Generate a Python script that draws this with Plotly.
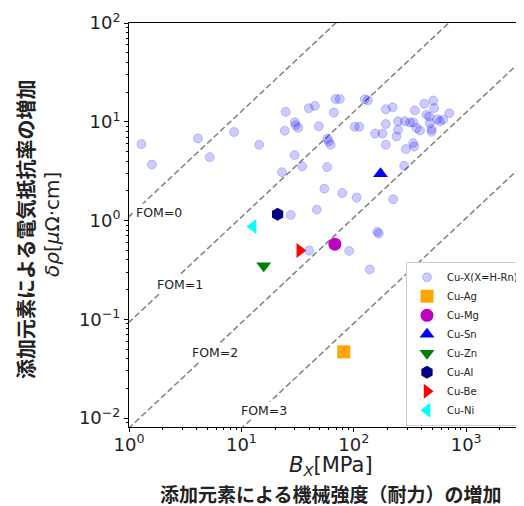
import numpy as np
import plotly.graph_objects as go

# ---------------- data ----------------
cux_x = [1.29, 1.60, 4.11, 5.23, 8.61, 14.4, 24.8, 39.8, 45.1, 29.9, 30.5, 32.1, 24.3, 48.9,
         29.7, 34.8, 23.0, 58.0, 54.7, 46.9, 27.5, 66.5, 68.9, 75.2, 125.6, 133.6, 102, 112,
         58.2, 60.0, 62.2, 155, 180, 193, 193, 193, 222, 78.9, 106, 224, 162, 167, 40.1, 91.0,
         139, 281, 291, 338, 345, 248, 248, 240, 285, 316, 338, 350, 388, 362, 424, 510, 520,
         445, 469, 476, 493, 493, 553, 585, 625, 708]
cux_y = [5.94, 3.69, 6.78, 4.39, 7.87, 5.85, 12.6, 13.7, 14.5, 9.89, 9.22, 8.69, 8.11, 9.0,
         4.60, 3.54, 3.09, 3.48, 2.10, 1.29, 1.14, 12.4, 17.0, 17.0, 16.9, 16.5, 8.9, 8.9,
         6.73, 6.34, 5.85, 7.61, 7.61, 13.4, 9.48, 5.85, 14.0, 1.90, 1.71, 1.64, 0.769, 0.741,
         0.497, 0.493, 0.320, 3.58, 5.29, 6.08, 5.62, 10.1, 8.30, 7.10, 10.1, 9.84, 9.84, 13.0,
         8.17, 8.64, 15.2, 16.4, 13.8, 11.8, 11.3, 9.70, 8.43, 7.92, 10.6, 10.1, 10.5, 12.2]

special_names = ["Cu-Ag", "Cu-Mg", "Cu-Sn", "Cu-Zn", "Cu-Al", "Cu-Be", "Cu-Ni"]
special_x = [81.5, 67.9, 173, 15.8, 21.0, 33.1, 12.7]
special_y = [0.0468, 0.577, 2.97, 0.348, 1.16, 0.497, 0.869]
special_symbols = ["square", "circle", "triangle-up", "triangle-down", "hexagon",
                   "triangle-right", "triangle-left"]
special_colors = ["#FFA500", "#BF00BF", "#0000FF", "#008000", "#000080", "#FF0000", "#00FFFF"]

fom_levels = [0, 1, 2, 3]
fom_label_x = [1.86, 2.82, 5.81, 15.8]
fom_label_y = [1.22, 0.224, 0.0457, 0.0120]
# FOM guide lines: log10(rho) = offset + slope*log10(B) - step*FOM
fom_slope = 1.065
fom_offset = 0.04
fom_step = 1.07

x_tickvals = [1, 10, 100, 1000]
x_ticktext = ["10<sup>0</sup>", "10<sup>1</sup>", "10<sup>2</sup>", "10<sup>3</sup>"]
y_tickvals = [0.01, 0.1, 1, 10, 100]
y_ticktext = ["10<sup>−2</sup>", "10<sup>−1</sup>", "10<sup>0</sup>", "10<sup>1</sup>", "10<sup>2</sup>"]

# ---------------- figure ----------------
fig = go.Figure()

bx = np.logspace(-1, 4, 2)
for f in fom_levels:
    ry = 10 ** (fom_offset - fom_step * f) * bx ** fom_slope
    fig.add_trace(go.Scatter(x=bx, y=ry, mode="lines", showlegend=False, hoverinfo="skip",
                             line=dict(color="#808080", width=1.5, dash="6px,3px")))

fig.add_trace(go.Scatter(x=cux_x, y=cux_y, mode="markers", name="Cu-X(X=H-Rn)",
                         marker=dict(size=9, color="rgba(0,0,255,0.2)",
                                     line=dict(color="rgba(0,0,255,0.2)", width=1))))
for n, xv, yv, s, c in zip(special_names, special_x, special_y, special_symbols, special_colors):
    fig.add_trace(go.Scatter(x=[xv], y=[yv], mode="markers", name=n,
                             marker=dict(size=13, symbol=s, color=c, line=dict(width=0))))

for f, lx, ly in zip(fom_levels, fom_label_x, fom_label_y):
    fig.add_annotation(x=np.log10(lx), y=np.log10(ly), xref="x", yref="y",
                       text=f"FOM={f}", showarrow=False, bgcolor="white",
                       xanchor="center", yanchor="middle",
                       font=dict(family="DejaVu Sans", size=12.5, color="#222"))

minor_x = [m * 10 ** d for d in range(0, 4) for m in range(2, 10)]
minor_y = [m * 10 ** d for d in range(-3, 2) for m in range(2, 10)]

tickfont = dict(family="DejaVu Sans", size=18, color="#222")
fig.update_xaxes(type="log", range=[0, 3.515], tickmode="array", tickvals=x_tickvals,
                 ticktext=x_ticktext, ticks="outside", ticklen=4, tickcolor="black",
                 showline=True, linecolor="black", linewidth=1, mirror=True,
                 showgrid=False, zeroline=False, tickfont=tickfont, automargin=False,
                 ticklabelstandoff=-3,
                 minor=dict(tickmode="array", tickvals=minor_x, ticks="outside",
                            ticklen=2, tickcolor="black", showgrid=False))
fig.update_yaxes(type="log", range=[-2.09, 2.0], tickmode="array", tickvals=y_tickvals,
                 ticktext=y_ticktext, ticks="outside", ticklen=4, tickcolor="black",
                 showline=True, linecolor="black", linewidth=1,
                 showgrid=False, zeroline=False, tickfont=tickfont, automargin=False,
                 minor=dict(tickmode="array", tickvals=minor_y, ticks="outside",
                            ticklen=2, tickcolor="black", showgrid=False))

# page has an 8px body margin; size figure so the plot lands where the reference has it
OFF = 8
W, H = 516, 498
L, R, T, B = 121, 0, 15, 79
def px(xp):
    return (xp - OFF - L) / (W - L - R)
def py(yp):
    return (H - B - (yp - OFF)) / (H - T - B)

fig.add_annotation(x=px(331), y=py(466), xref="paper", yref="paper", showarrow=False,
                   xanchor="center", yanchor="middle",
                   text="<i>B</i><sub><i>X</i></sub>[MPa]",
                   font=dict(family="DejaVu Sans", size=21, color="#222"))
fig.add_annotation(x=px(330), y=py(494), xref="paper", yref="paper", showarrow=False,
                   xanchor="center", yanchor="middle",
                   text="<b>添加元素による機械強度（耐力）の増加</b>",
                   font=dict(family="Noto Sans CJK JP", size=19, color="#222"))
fig.add_annotation(x=px(25), y=py(230), xref="paper", yref="paper", showarrow=False,
                   xanchor="center", yanchor="middle",
                   textangle=-90, text="<b>添加元素による電気抵抗率の増加</b>",
                   font=dict(family="Noto Sans CJK JP", size=20, color="#222"))
fig.add_annotation(x=px(52), y=py(225), xref="paper", yref="paper", showarrow=False,
                   xanchor="center", yanchor="middle",
                   textangle=-90, text="<i>δρ</i>[<i>μ</i>Ω·cm]",
                   font=dict(family="DejaVu Sans", size=20, color="#222"))

fig.update_layout(width=W, height=H,
                  margin=dict(l=L, r=R, t=T, b=B, pad=0, autoexpand=False),
                  paper_bgcolor="white", plot_bgcolor="white",
                  legend=dict(x=px(406), y=0.003, xanchor="left", yanchor="bottom",
                              bgcolor="white", bordercolor="#cccccc", borderwidth=1,
                              font=dict(family="DejaVu Sans", size=10, color="#222"),
                              itemsizing="trace", tracegroupgap=0))

fig.write_html("out.html")
